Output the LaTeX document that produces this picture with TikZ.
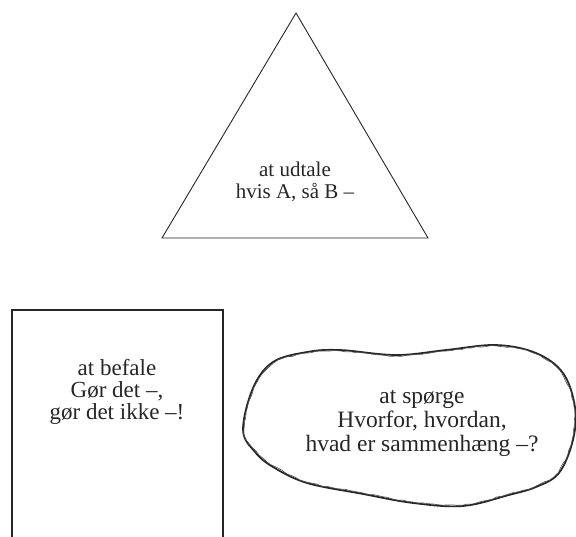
\documentclass[tikz,border=0pt]{standalone}
\usepackage{fontspec}
\setmainfont{Liberation Serif}
\usetikzlibrary{decorations.pathmorphing}

\begin{document}
\begin{tikzpicture}[x=1pt, y=-1pt,
  outline/.style={draw=black!85, line width=0.9pt},
  speech/.style={align=center, inner sep=0pt, text=black!85}]

\useasboundingbox (0,0) rectangle (576,537);

% Draw triangle
\draw[outline] (296,13) -- (428,238) -- (162,238) -- cycle;
\node[speech, font=\fontsize{21}{21.5}\selectfont] (udtale) at (295,182)
  {at udtale\\hvis A, så B –};

% Draw rectangle, its bottom edge runs off the page
\draw[outline, line width=1.1pt] (12,540) -- (12,310) -- (223,310) -- (223,540);
\node[speech, font=\fontsize{23}{22}\selectfont] (befale) at (117,392)
  {at befale\\Gør det –,\\gør det ikke –!};

% Draw hand-drawn blob
\draw[black!85, line width=1.7pt, line join=round]
  plot[smooth cycle, tension=0.6] coordinates {
    (243,430) (255,452) (273,467) (307,483) (363,494) (413,503)
    (463,506) (509,495) (536,487) (559,473) (573,440) (575,407)
    (563,373) (536,353) (496,345) (446,350) (396,355) (340,350)
    (307,352) (273,362) (253,388)};
\draw[black!70, line width=0.6pt,
  decorate, decoration={random steps, segment length=5pt, amplitude=0.6pt}]
  plot[smooth cycle, tension=0.6] coordinates {
    (244,430) (256,451) (274,466) (307,482) (363,493) (413,502)
    (463,505) (509,494) (536,486) (558,472) (572,440) (574,407)
    (562,374) (536,354) (496,346) (446,351) (396,356) (340,351)
    (307,353) (274,363) (254,388)};
\node[speech, font=\fontsize{23.5}{24}\selectfont] (spoerge) at (422,423)
  {at spørge\\Hvorfor, hvordan,\\hvad er sammenhæng –?};

\end{tikzpicture}
\end{document}
